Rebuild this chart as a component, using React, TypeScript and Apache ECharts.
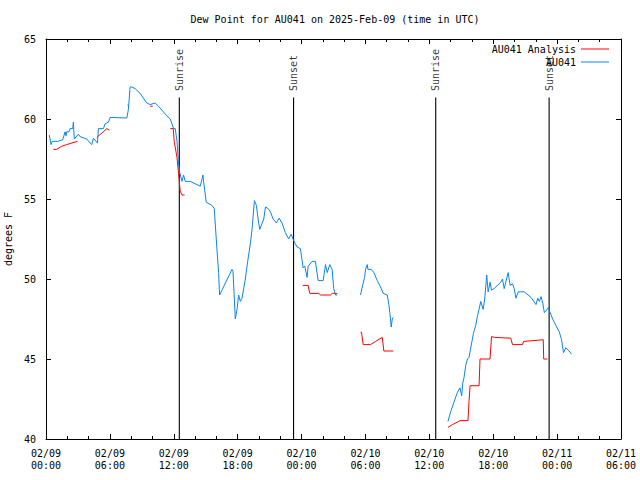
import React, { useEffect, useRef } from "react";
import * as echarts from "echarts";

// hours since 2025-02-09 00:00 UTC
const stationHours = [0.31,0.47,0.59,1.10,1.57,1.79,1.88,1.95,2.16,2.26,2.51,2.57,2.66,3.04,3.20,3.83,4.14,4.30,4.45,4.83,4.92,5.39,5.55,5.86,6.02,7.59,7.74,7.90,8.06,8.37,8.84,9.47,9.78,10.25,10.56,11.35,11.67,11.98,12.14,12.30,12.45,12.54,12.77,12.92,13.08,13.55,14.49,14.74,14.80,15.05,15.59,15.80,15.99,16.21,16.30,16.52,17.47,17.56,17.78,17.94,18.09,18.25,18.41,18.72,18.94,19.19,19.35,19.57,19.76,19.92,20.07,20.45,20.61,20.86,21.07,21.33,21.64,21.89,22.17,22.48,22.79,23.02,23.20,23.33,23.58,23.89,24.15,24.30,24.52,24.62,24.99,25.30,25.56,26.03,26.25,26.41,26.65,26.87,27.02,27.19,27.35,28.40,29.54,29.70,29.92,30.01,30.17,30.23,30.55,30.79,31.11,31.42,31.67,32.05,32.20,32.29,32.42,32.52,32.61,35.00,37.75,38.00,38.31,38.63,38.88,39.04,39.14,39.26,39.42,39.58,39.73,39.89,40.14,40.36,40.52,40.67,40.83,41.05,41.20,41.39,41.52,41.71,41.84,42.08,42.71,42.87,43.03,43.18,43.40,43.59,43.81,43.97,44.13,44.35,44.60,44.91,45.55,46.02,46.18,46.33,46.49,46.65,46.80,46.94,47.17,47.35,47.58,47.88,48.20,48.42,48.60,48.82,49.13,49.36];
const stationDew = [59.0,58.4,58.6,58.6,58.7,59.2,58.95,59.2,59.2,59.4,59.4,59.8,58.75,59.05,58.9,58.75,58.5,58.4,58.8,58.5,59.4,59.4,59.7,59.8,60.1,60.06,60.6,62.0,62.0,61.9,61.6,61.0,60.9,61.0,60.8,60.2,60.0,59.4,59.4,58.6,57.2,56.7,56.1,56.5,56.1,56.1,55.8,56.5,56.1,54.8,54.6,54.4,52.5,50.4,49.0,49.3,50.6,50.5,47.5,48.1,49.0,48.6,48.8,50.0,51.1,52.2,53.1,54.9,54.6,53.75,53.1,53.75,54.5,54.4,54.2,53.75,53.5,53.8,53.5,52.9,52.5,52.8,52.5,52.3,52.0,51.9,50.7,50.8,50.1,50.8,51.1,51.1,49.9,49.9,50.9,50.4,50.9,50.6,49.4,49.0,49.0,null,49.0,49.5,50.1,50.6,50.9,50.6,50.6,50.4,49.9,49.5,49.1,49.0,48.4,47.9,47.0,47.5,47.6,null,41.1,41.7,42.3,42.9,43.2,42.7,43.5,43.85,44.6,45.0,45.1,45.7,46.6,47.1,47.7,48.1,48.6,48.1,48.75,50.25,49.2,49.8,49.3,49.4,49.8,50.0,49.4,49.8,50.4,49.6,49.7,49.4,48.8,49.2,49.2,49.2,48.85,48.4,48.8,48.6,48.9,48.5,47.9,48.0,48.2,47.9,47.5,47.1,46.7,46.2,45.4,45.7,45.5,45.3];

const analysisHours = [0.69,1.00,1.48,1.95,2.42,2.95,3.80,4.77,5.39,5.71,5.95,6.80,7.70,7.76,8.90,9.78,10.03,10.80,11.67,11.95,12.04,12.30,12.45,12.60,12.77,13.01,18.00,24.11,24.62,24.77,25.62,25.78,26.72,26.88,27.35,28.40,29.54,29.63,29.79,30.48,30.95,31.58,31.73,32.61,35.00,37.75,38.17,38.63,38.88,39.63,39.73,39.83,40.67,40.76,41.70,41.84,42.15,43.65,43.81,44.75,44.85,46.70,46.74,47.10];
const analysisDew = [58.1,58.1,58.3,58.4,58.5,58.6,null,58.85,59.2,59.4,59.3,null,60.9,60.75,null,60.8,60.8,null,59.4,59.4,58.6,57.6,56.6,55.5,55.25,55.25,null,49.6,49.6,49.1,49.1,49.0,49.0,49.1,49.1,null,46.67,46.67,45.9,45.9,46.1,46.35,45.5,45.5,null,40.73,40.9,41.05,41.15,41.15,42.4,43.33,43.33,45.0,45.0,46.4,46.35,46.3,45.9,45.9,46.1,46.2,45.0,45.0];

const eventNames = ["Sunrise", "Sunset", "Sunrise", "Sunset"];
const eventHours = [12.52, 23.25, 36.6, 47.25];
const eventTop = 61.34;

const FONT = "DejaVu Sans Mono";

function fmtHour(h: number) {
  const day = 9 + Math.floor(h / 24);
  const hh = Math.round(h % 24);
  return `02/${String(day).padStart(2, "0")}\n${String(hh).padStart(2, "0")}:00`;
}

export default function App() {
  const ref = useRef<HTMLDivElement>(null);
  useEffect(() => {
    if (!ref.current) return;
    const chart = echarts.init(ref.current, null, { renderer: "svg" });
    const stationData = stationHours.map((h, i) => [h, stationDew[i]]);
    const analysisData = analysisHours.map((h, i) => [h, analysisDew[i]]);
    const lineData: any[] = [];
    eventHours.forEach((h) => {
      lineData.push([h, 40], [h, eventTop], [h, null]);
    });
    const labelData = eventHours.map((h, i) => ({ value: [h, eventTop], name: eventNames[i] }));

    const xBase = {
      type: "value" as const,
      min: 0,
      max: 54,
      interval: 6,
      splitLine: { show: false },
      axisLine: { show: true, onZero: false, lineStyle: { color: "#000", width: 1 } },
      axisTick: { show: true, inside: true, length: 5, lineStyle: { color: "#000" } },
      minorTick: { show: true, splitNumber: 3, length: 3, lineStyle: { color: "#000" } },
    };
    const yBase = {
      type: "value" as const,
      min: 40,
      max: 65,
      interval: 5,
      splitLine: { show: false },
      axisLine: { show: true, onZero: false, lineStyle: { color: "#000", width: 1 } },
      axisTick: { show: true, inside: true, length: 5, lineStyle: { color: "#000" } },
    };
    const legendBase = {
      right: 31,
      padding: 0,
      align: "right" as const,
      icon: "rect",
      itemWidth: 28,
      itemHeight: 1,
      textStyle: { fontFamily: FONT, fontSize: 10, color: "#000" },
    };

    chart.setOption({
      animation: false,
      backgroundColor: "#fff",
      textStyle: { fontFamily: FONT },
      title: {
        text: "Dew Point for AU041 on 2025-Feb-09 (time in UTC)",
        left: 330,
        textAlign: "center",
        top: 9,
        textStyle: { fontFamily: FONT, fontSize: 10, fontWeight: "normal", color: "#000" },
      },
      grid: { left: 46, right: 19, top: 39, bottom: 41, containLabel: false, outerBoundsMode: "none" },
      legend: [
        { ...legendBase, data: ["AU041 Analysis"], top: 44 },
        { ...legendBase, data: ["AU041"], top: 57 },
      ],
      xAxis: [
        {
          ...xBase,
          position: "bottom",
          axisLabel: {
            formatter: (v: number) => fmtHour(v),
            fontFamily: FONT,
            fontSize: 10,
            color: "#000",
            margin: 8,
            lineHeight: 12.5,
          },
        },
        { ...xBase, position: "top", axisLabel: { show: false } },
      ],
      yAxis: [
        {
          ...yBase,
          position: "left",
          name: "degrees F",
          nameLocation: "middle",
          nameRotate: 90,
          nameGap: 29,
          nameTextStyle: { fontFamily: FONT, fontSize: 10, color: "#000" },
          axisLabel: { fontFamily: FONT, fontSize: 10, color: "#000", margin: 10 },
        },
        { ...yBase, position: "right", axisLabel: { show: false } },
      ],
      series: [
        {
          name: "events",
          type: "line",
          data: lineData,
          showSymbol: false,
          symbol: "none",
          connectNulls: false,
          lineStyle: { color: "#000", width: 1.1 },
          silent: true,
        },
        {
          name: "eventLabels",
          type: "scatter",
          data: labelData,
          symbolSize: 1,
          itemStyle: { color: "rgba(0,0,0,0)" },
          label: {
            show: true,
            formatter: "{b}",
            position: "top",
            distance: 6,
            rotate: 90,
            align: "left",
            verticalAlign: "middle",
            fontFamily: FONT,
            fontSize: 10,
            color: "#000",
          },
          labelLayout: { hideOverlap: false },
          silent: true,
        },
        {
          name: "AU041 Analysis",
          type: "line",
          data: analysisData,
          symbol: "none",
          showSymbol: false,
          connectNulls: false,
          lineStyle: { color: "#ff0000", width: 1 },
          itemStyle: { color: "#ff0000" },
        },
        {
          name: "AU041",
          type: "line",
          data: stationData,
          symbol: "none",
          showSymbol: false,
          connectNulls: false,
          lineStyle: { color: "#0a84f0", width: 1 },
          itemStyle: { color: "#0a84f0" },
        },
      ],
    });
    return () => chart.dispose();
  }, []);
  return <div ref={ref} style={{ position: "fixed", left: 0, top: 0, width: 640, height: 480 }} />;
}
